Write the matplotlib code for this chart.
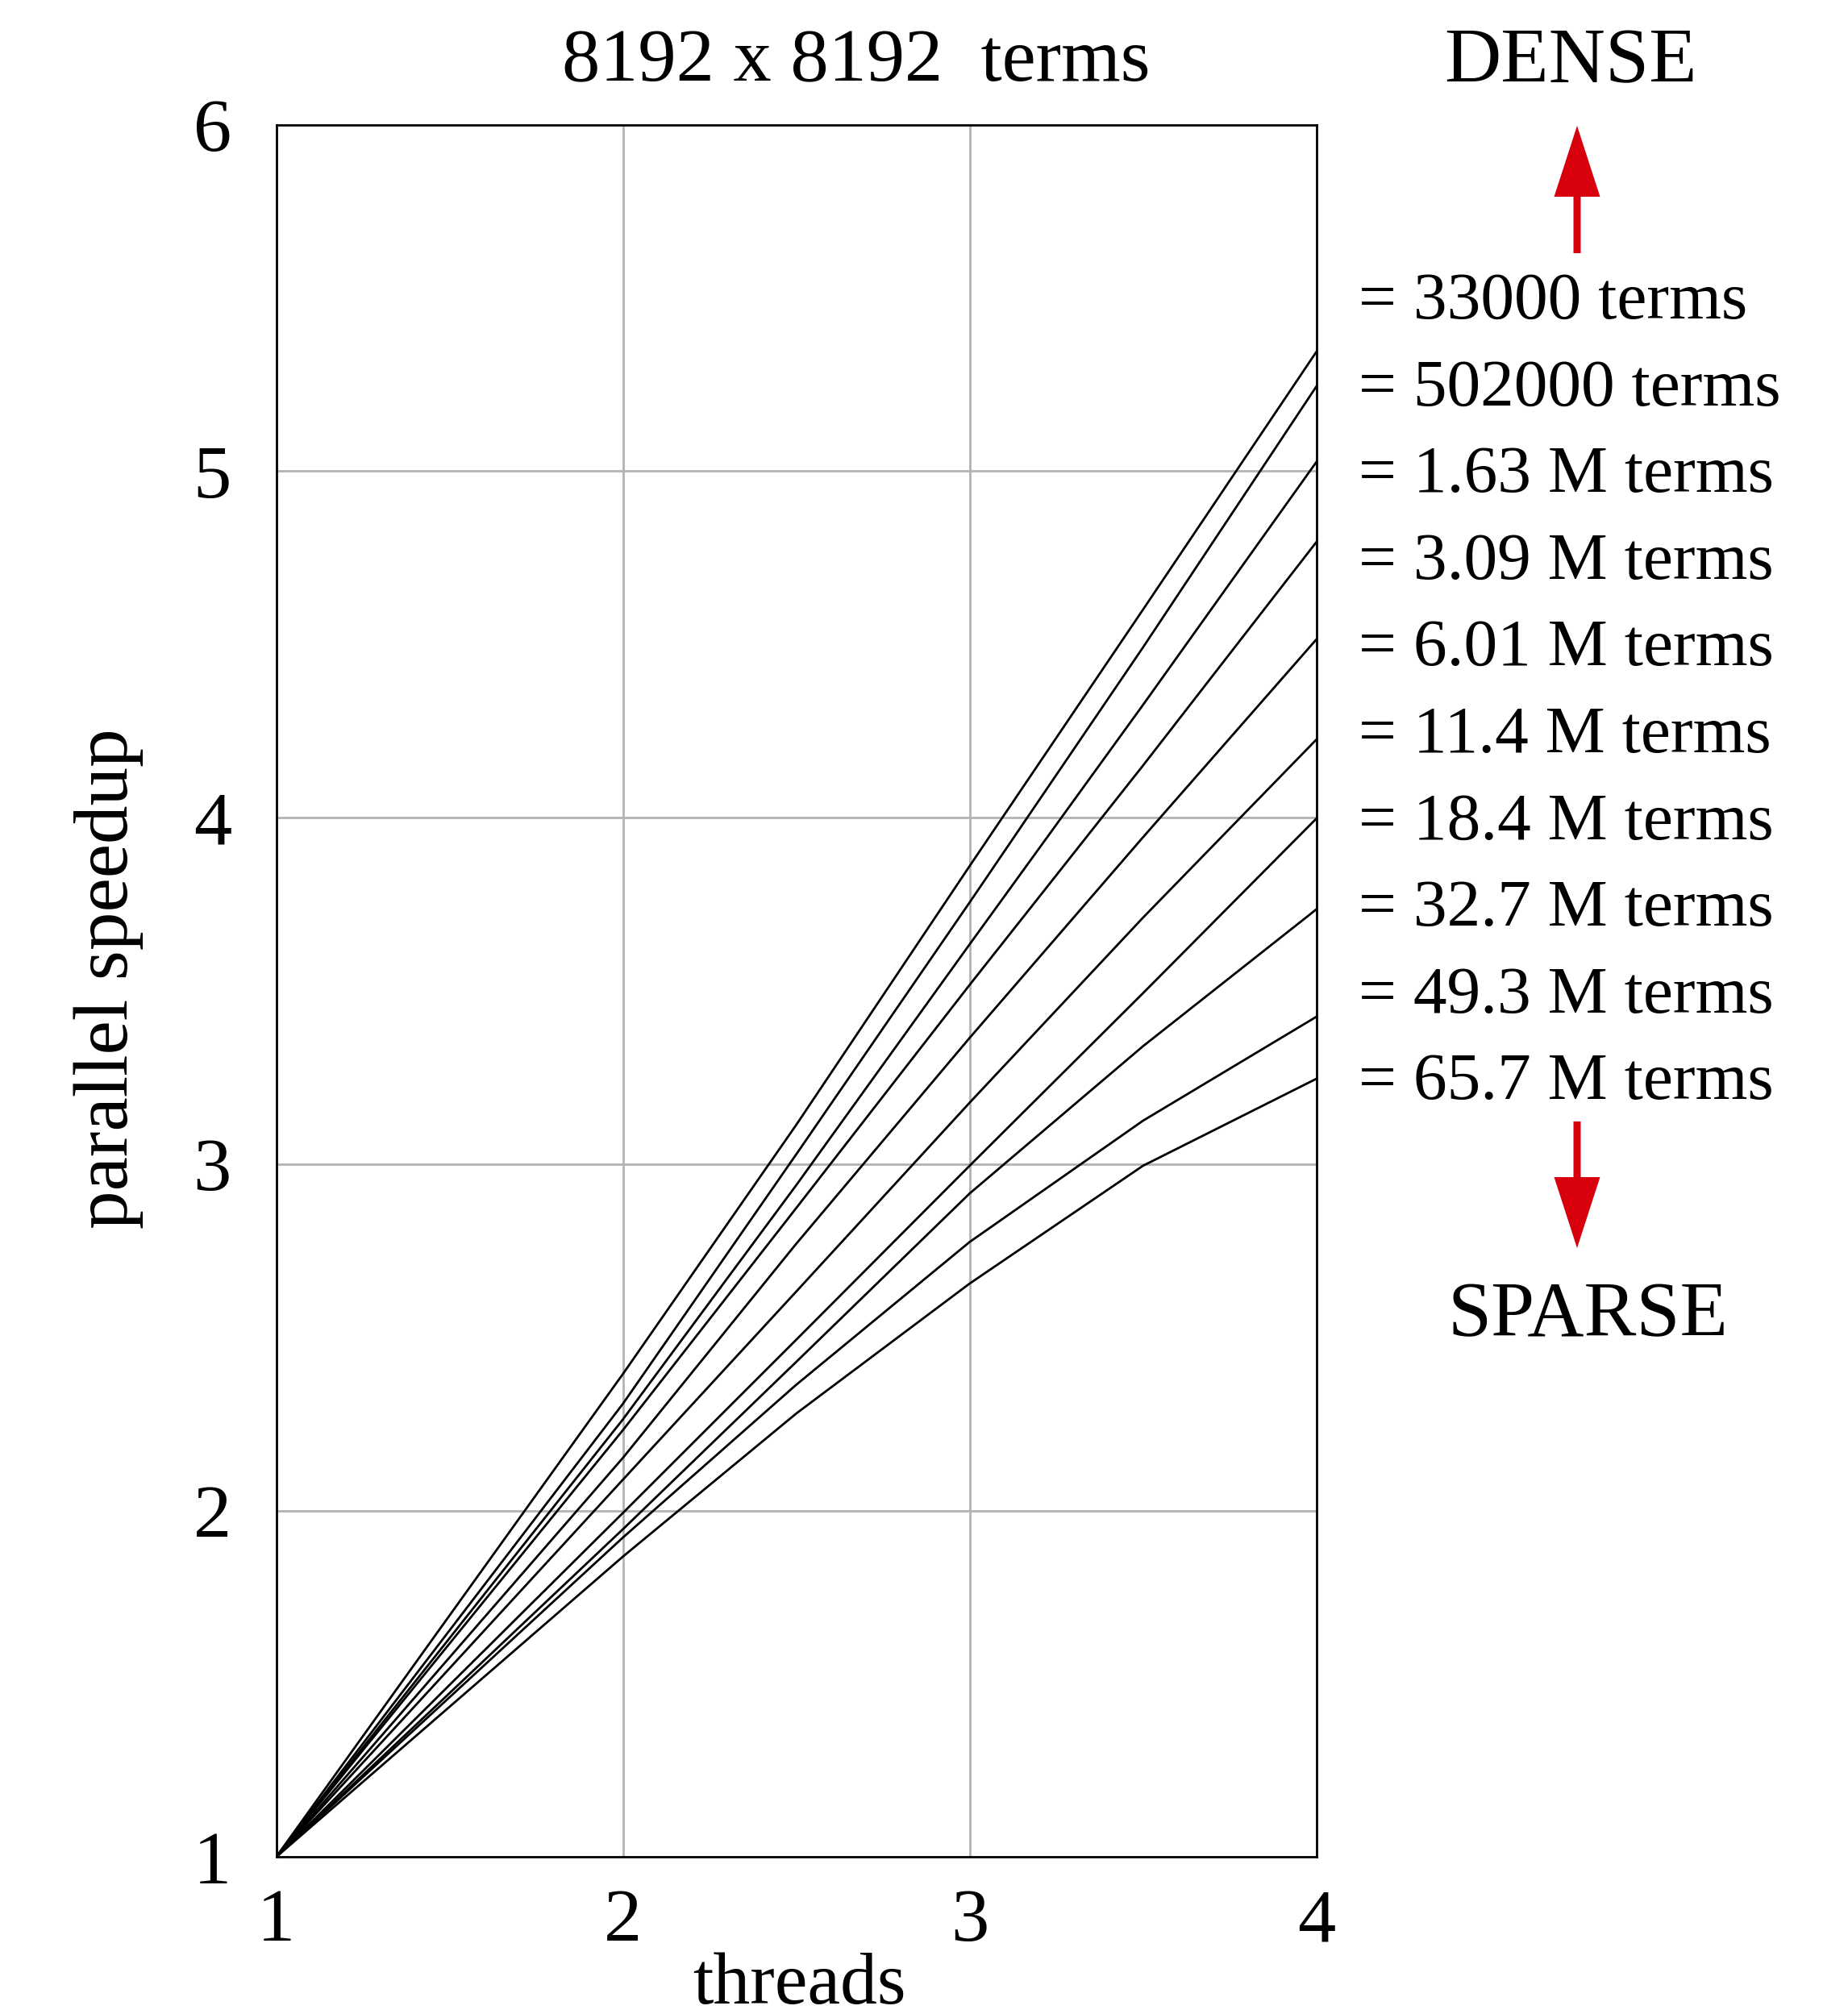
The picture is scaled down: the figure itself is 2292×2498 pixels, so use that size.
import matplotlib
matplotlib.use("Agg")
import matplotlib.pyplot as plt
from matplotlib.patches import FancyArrow

plt.rcParams['font.family'] = ['Liberation Serif', 'DejaVu Serif']

threads = [1, 2, 2.5, 3, 3.5, 4]
labels = ["= 33000 terms", "= 502000 terms", "= 1.63 M terms", "= 3.09 M terms",
          "= 6.01 M terms", "= 11.4 M terms", "= 18.4 M terms", "= 32.7 M terms",
          "= 49.3 M terms", "= 65.7 M terms"]
s_33000 = [1, 2.394, 3.113, 3.860, 4.600, 5.344]
s_502000 = [1, 2.308, 3.028, 3.755, 4.491, 5.244]
s_1_63M = [1, 2.263, 2.939, 3.634, 4.325, 5.026]
s_3_09M = [1, 2.232, 2.873, 3.517, 4.150, 4.795]
s_6_01M = [1, 2.152, 2.770, 3.364, 3.943, 4.514]
s_11_4M = [1, 2.089, 2.632, 3.177, 3.711, 4.225]
s_18_4M = [1, 1.993, 2.493, 2.995, 3.493, 3.997]
s_32_7M = [1, 1.946, 2.429, 2.915, 3.340, 3.735]
s_49_3M = [1, 1.922, 2.363, 2.775, 3.125, 3.425]
s_65_7M = [1, 1.867, 2.280, 2.655, 2.995, 3.246]
series = [s_33000, s_502000, s_1_63M, s_3_09M, s_6_01M, s_11_4M,
          s_18_4M, s_32_7M, s_49_3M, s_65_7M]
xticks = [1, 2, 3, 4]
yticks = [1, 2, 3, 4, 5, 6]

W, H = 2292, 2498
fig = plt.figure(figsize=(W / 100, H / 100), dpi=100)
L, R, T, B = 342.5, 1632.6, 154.5, 2303.3
ax = fig.add_axes([L / W, (H - B) / H, (R - L) / W, (B - T) / H])

for s in series:
    ax.plot(threads, s, color='black', lw=2.0, solid_joinstyle='round', zorder=3)

ax.set_xlim(1, 4)
ax.set_ylim(1, 6)
ax.set_xticks(xticks)
ax.set_yticks(yticks)
ax.grid(True, color='#b3b3b3', lw=2.0, zorder=0)
ax.set_axisbelow(True)
ax.tick_params(length=0, labelsize=68)
ax.tick_params(axis='x', pad=28)
ax.tick_params(axis='y', pad=40)
for sp in ax.spines.values():
    sp.set_linewidth(2.0)
    sp.set_color('black')

# overlay in pixel coordinates
ov = fig.add_axes([0, 0, 1, 1])
ov.set_xlim(0, W)
ov.set_ylim(H, 0)
ov.axis('off')
ov.patch.set_alpha(0)

ov.text(1062, 100, "8192 x 8192  terms", fontsize=68, ha='center', va='baseline')
ov.text(1948, 102, "DENSE", fontsize=70, ha='center', va='baseline')
ov.text(1970, 1657, "SPARSE", fontsize=70, ha='center', va='baseline')
ov.text(991, 2498 + 6, "threads", fontsize=66, ha='center', va='bottom')
ov.text(135, 1214, "parallel speedup", fontsize=68.5, ha='center', va='center', rotation=90)

y0 = 375
for i, lab in enumerate(labels):
    ov.text(1685, y0 + i * 107.6, lab, fontsize=60, ha='left', va='center')

red = '#d9000d'
ov.add_patch(FancyArrow(1956, 314, 0, -158, width=9, head_width=57, head_length=88,
                        length_includes_head=True, color=red, lw=0))
ov.add_patch(FancyArrow(1956, 1391, 0, 157, width=9, head_width=57, head_length=88,
                        length_includes_head=True, color=red, lw=0))

fig.savefig("out.png", dpi=100, facecolor='white')
